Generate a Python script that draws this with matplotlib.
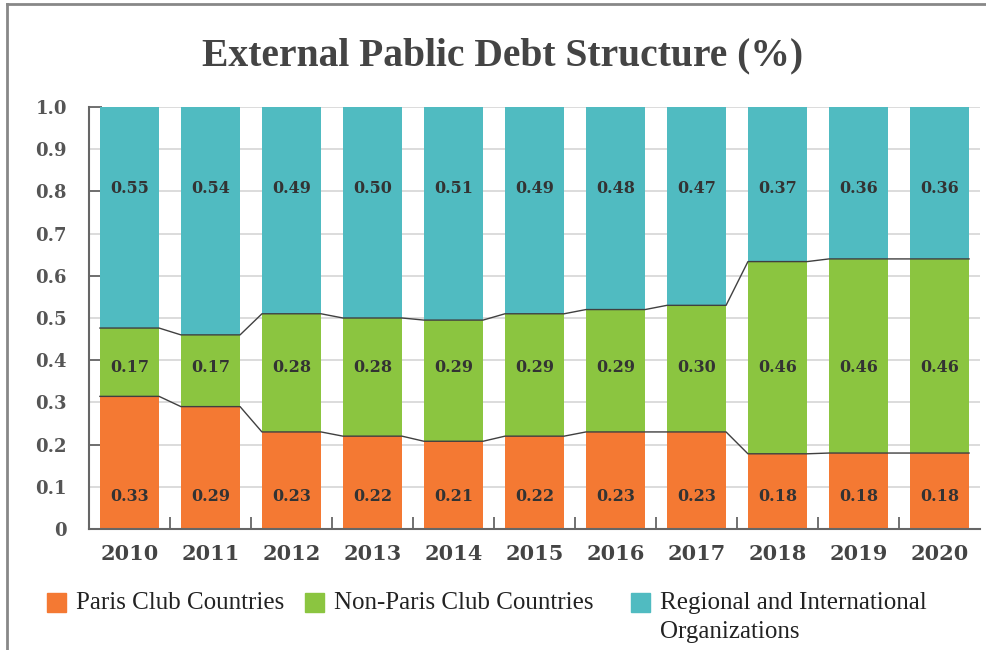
import matplotlib
matplotlib.use("Agg")
import matplotlib.pyplot as plt
from matplotlib.patches import Rectangle
from matplotlib.lines import Line2D
from matplotlib.ticker import FixedLocator, FuncFormatter
import numpy as np

years = ["2010", "2011", "2012", "2013", "2014", "2015", "2016", "2017", "2018", "2019", "2020"]
series_names = ["Paris Club Countries", "Non-Paris Club Countries",
                "Regional and International\nOrganizations"]
paris_club = [0.33, 0.29, 0.23, 0.22, 0.21, 0.22, 0.23, 0.23, 0.18, 0.18, 0.18]
non_paris_club = [0.17, 0.17, 0.28, 0.28, 0.29, 0.29, 0.29, 0.30, 0.46, 0.46, 0.46]
regional_intl = [0.55, 0.54, 0.49, 0.50, 0.51, 0.49, 0.48, 0.47, 0.37, 0.36, 0.36]
y_ticks = [0, 0.1, 0.2, 0.3, 0.4, 0.5, 0.6, 0.7, 0.8, 0.9, 1.0]

colors = ["#F47933", "#8BC540", "#50BBC1"]
label_y = [0.077, 0.382, 0.807]   # fixed heights of the value labels per series

W, H = 987, 650
fig = plt.figure(figsize=(W / 100, H / 100), dpi=100)
ax = fig.add_axes([89 / W, (H - 529) / H, 891 / W, 422 / H])

values = np.array([paris_club, non_paris_club, regional_intl])
shares = values / values.sum(axis=0)
x = np.arange(len(years))
bw = 0.73

bottom = np.zeros(len(years))
for i in range(3):
    ax.bar(x, shares[i], bw, bottom=bottom, color=colors[i], zorder=2, linewidth=0)
    top = bottom + shares[i]
    if i < 2:
        lx, ly = [], []
        for xi, yi in zip(x, top):
            lx += [xi - bw / 2, xi + bw / 2]
            ly += [yi, yi]
        ax.plot(lx, ly, color="#404040", lw=1.0, zorder=3)
    for xi, v in zip(x, values[i]):
        ax.text(xi, label_y[i], f"{v:.2f}", ha="center", va="center",
                fontsize=11.5, fontweight="bold", family="DejaVu Serif",
                color="#333333", zorder=4)
    bottom = top

ax.set_xlim(-0.5, len(years) - 0.5)
ax.set_ylim(0, 1.0)

ax.set_xticks(x)
ax.set_xticklabels(years)
ax.xaxis.set_minor_locator(FixedLocator(x[:-1] + 0.5))
ax.tick_params(axis="x", which="major", length=0, pad=11)
ax.tick_params(axis="x", which="minor", direction="in", length=9, width=1.3, color="#666666")

ax.yaxis.set_major_locator(FixedLocator(y_ticks))
ax.yaxis.set_major_formatter(FuncFormatter(lambda v, p: "0" if v == 0 else f"{v:.1f}"))
ax.yaxis.remove_overlapping_locs = False
ax.yaxis.set_minor_locator(FixedLocator(y_ticks[::2]))
ax.tick_params(axis="y", which="major", length=0, pad=16)
ax.tick_params(axis="y", which="minor", direction="in", length=9, width=1.3, color="#666666")

for lab in ax.get_xticklabels():
    lab.set_fontfamily("DejaVu Serif")
    lab.set_fontweight("bold")
    lab.set_fontsize(15)
    lab.set_color("#444444")
for lab in ax.get_yticklabels():
    lab.set_fontfamily("DejaVu Serif")
    lab.set_fontweight("bold")
    lab.set_fontsize(13)
    lab.set_color("#555555")

ax.grid(axis="y", color="#d9d9d9", lw=1.3, zorder=0)
ax.set_axisbelow(True)
for s in ["top", "right"]:
    ax.spines[s].set_visible(False)
for s in ["left", "bottom"]:
    ax.spines[s].set_color("#666666")
    ax.spines[s].set_linewidth(1.5)

# title
fig.text(503 / W, 1 - 56 / H, "External Pablic Debt Structure (%)", ha="center", va="center",
         fontsize=28.5, fontweight="bold", family="Liberation Serif", color="#444444")

# legend: colour square plus one text per line of the label
leg_x = [47, 305, 631]
for name, c, lx in zip(series_names, colors, leg_x):
    fig.patches.append(Rectangle((lx / W, 1 - 612 / H), 19 / W, 19 / H,
                                 transform=fig.transFigure, color=c, figure=fig))
    for k, line in enumerate(name.split("\n")):
        fig.text((lx + 29) / W, 1 - (603 + 29 * k) / H, line, ha="left", va="center",
                 fontsize=18, family="Liberation Serif", color="#222222")

# outer frame (left and top edges)
fig.add_artist(Line2D([6.5 / W, 6.5 / W], [0, 1 - 4 / H], transform=fig.transFigure,
                      color="#888888", lw=2))
fig.add_artist(Line2D([6.5 / W, 1], [1 - 4 / H, 1 - 4 / H], transform=fig.transFigure,
                      color="#888888", lw=2))

fig.savefig("out.png", dpi=100)
